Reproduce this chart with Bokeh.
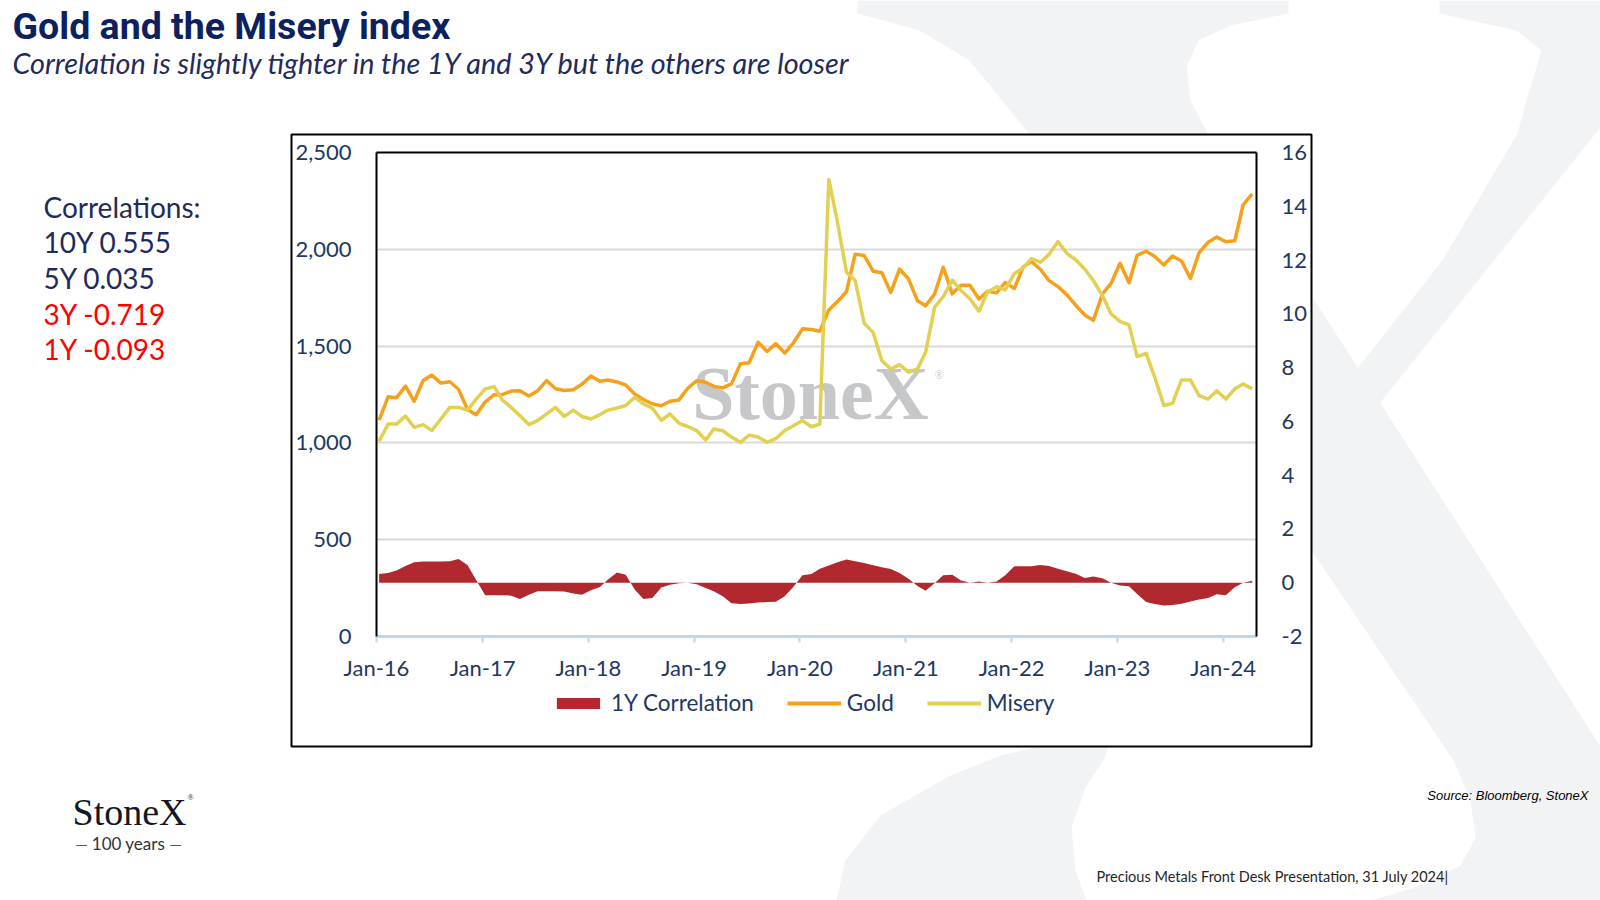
from datetime import datetime
import pandas as pd
from bokeh.plotting import figure
from bokeh.models import (Range1d, LinearAxis, FixedTicker, NumeralTickFormatter,
                          DatetimeTickFormatter, Legend, LegendItem, Label,
                          BoxAnnotation, PolyAnnotation, ColumnDataSource)
from bokeh.embed import file_html
from bokeh.resources import INLINE

# ---------------- data (monthly, Jan-16 .. Apr-24) ----------------
months = pd.date_range("2016-01-01", "2024-04-01", freq="MS")

gold = [1118, 1238, 1233, 1293, 1215, 1322, 1351, 1309, 1316, 1277, 1173, 1146,
        1211, 1249, 1249, 1268, 1269, 1242, 1269, 1322, 1280, 1271, 1275, 1303,
        1345, 1318, 1325, 1315, 1299, 1253, 1224, 1202, 1192, 1215, 1222, 1282,
        1321, 1313, 1292, 1284, 1305, 1409, 1414, 1520, 1472, 1513, 1464, 1517,
        1589, 1586, 1577, 1687, 1730, 1781, 1975, 1968, 1887, 1879, 1777, 1898,
        1847, 1734, 1708, 1769, 1907, 1770, 1814, 1814, 1743, 1783, 1775, 1829,
        1797, 1909, 1937, 1897, 1838, 1807, 1766, 1711, 1661, 1633, 1768, 1824,
        1928, 1827, 1969, 1990, 1963, 1919, 1965, 1940, 1849, 1983, 2036, 2063,
        2039, 2044, 2230, 2286]

misery = [5.26, 5.90, 5.90, 6.20, 5.78, 5.88, 5.66, 6.09, 6.52, 6.52, 6.42, 6.83,
          7.21, 7.29, 6.80, 6.52, 6.21, 5.88, 6.03, 6.28, 6.52, 6.18, 6.42, 6.18,
          6.09, 6.25, 6.42, 6.50, 6.59, 6.90, 6.65, 6.49, 6.04, 6.28, 5.93, 5.81,
          5.66, 5.31, 5.72, 5.65, 5.42, 5.22, 5.49, 5.42, 5.22, 5.36, 5.66, 5.84,
          6.03, 5.80, 5.90, 15.00, 13.40, 11.55, 11.24, 9.65, 9.31, 8.26, 7.95, 8.11,
          7.83, 7.95, 8.57, 10.24, 10.64, 11.25, 10.87, 10.56, 10.10, 10.80, 11.01, 10.89,
          11.49, 11.71, 12.05, 11.92, 12.21, 12.69, 12.25, 12.01, 11.67, 11.24, 10.68, 10.00,
          9.72, 9.59, 8.41, 8.53, 7.64, 6.59, 6.67, 7.54, 7.54, 6.96, 6.83, 7.14,
          6.83, 7.21, 7.39, 7.21]

corr_1y = [0.32, 0.36, 0.45, 0.62, 0.76, 0.79, 0.79, 0.79, 0.80, 0.88, 0.66, 0.10,
           -0.47, -0.47, -0.47, -0.48, -0.61, -0.45, -0.32, -0.32, -0.32, -0.33, -0.40, -0.45,
           -0.28, -0.16, 0.12, 0.38, 0.30, -0.25, -0.61, -0.57, -0.18, -0.08, -0.02, 0.00,
           -0.06, -0.20, -0.32, -0.50, -0.76, -0.79, -0.77, -0.74, -0.72, -0.71, -0.50, -0.15,
           0.28, 0.32, 0.52, 0.64, 0.76, 0.86, 0.80, 0.73, 0.65, 0.58, 0.51, 0.36,
           0.15, -0.12, -0.30, -0.02, 0.28, 0.30, 0.08, 0.00, 0.05, 0.00, 0.05, 0.28,
           0.61, 0.61, 0.61, 0.66, 0.62, 0.52, 0.43, 0.33, 0.18, 0.23, 0.17, 0.00,
           -0.10, -0.13, -0.42, -0.72, -0.79, -0.85, -0.83, -0.78, -0.70, -0.62, -0.57, -0.43,
           -0.47, -0.17, 0.00, 0.07]

year_ticks = pd.date_range("2016-01-01", "2024-01-01", freq="YS")
left_ticks = [0, 500, 1000, 1500, 2000, 2500]
right_ticks = [-2, 0, 2, 4, 6, 8, 10, 12, 14, 16]

title_text = "Gold and the Misery index"
subtitle_text = "Correlation is slightly tighter in the 1Y and 3Y but the others are looser"
corr_lines = ["Correlations:", "10Y 0.555", "5Y 0.035", "3Y -0.719", "1Y -0.093"]
corr_colors = ["#1F2B5C", "#1F2B5C", "#1F2B5C", "#FF0000", "#FF0000"]
series_names = ["1Y Correlation", "Gold", "Misery"]
source_text = "Source: Bloomberg, StoneX"
footer_text = "Precious Metals Front Desk Presentation, 31 July 2024|"

# ---------------- styles ----------------
W, H = 1600, 900
NAVY = "#203864"
GOLD_C = "#F5A11C"
MIS_C = "#E2D052"
CORR_C = "#B2282F"
BG_X = "#F2F3F5"
FONT = "Lato"

# =============== background slide (page-pixel coordinates) ===============
bg = figure(width=W, height=H, x_range=Range1d(0, W), y_range=Range1d(H, 0),
            x_axis_location=None, y_axis_location=None, toolbar_location=None,
            output_backend="svg", min_border=0, outline_line_color=None,
            background_fill_color="white", border_fill_color="white")
bg.xgrid.visible = False
bg.ygrid.visible = False

x_pieces = [
    [(857, 0), (1288, 0), (1288, 13), (1230, 25), (1198, 40), (1186, 67), (1190, 100),
     (1208, 134), (1029, 134), (969, 60), (919, 30), (857, 13)],
    [(1439, 0), (1600, 0), (1600, 127), (1311, 488), (1311, 426), (1442, 260),
     (1517, 133), (1526, 100), (1541, 50), (1516, 30), (1439, 13)],
    [(1311, 295), (1600, 746), (1600, 900), (1371, 900), (1420, 885), (1460, 865),
     (1475, 837), (1470, 800), (1453, 760), (1311, 550)],
    [(1040, 746), (1108, 746), (1103, 760), (1085, 787), (1071, 827), (1075, 870),
     (1086, 900), (836, 900), (845, 860), (880, 815), (950, 775), (1000, 755)],
]
for piece in x_pieces:
    bg.add_layout(PolyAnnotation(xs=[q[0] for q in piece], ys=[q[1] for q in piece],
                                 fill_color=BG_X, fill_alpha=1.0, line_color=None))

bg.add_layout(BoxAnnotation(left=291, right=1311, top=134, bottom=746,
                            fill_color="white", fill_alpha=1.0,
                            line_color="black", line_alpha=1.0, line_width=2))


def page_label(x, y, text, **kw):
    bg.add_layout(Label(x=x, y=y, text=text, **kw))


# watermark inside the plot area (drawn under the transparent chart)
page_label(810, 392, "StoneX", text_align="center", text_baseline="alphabetic",
           text_font="Liberation Serif", text_font_size="76px", text_font_style="bold",
           text_color="#C6C7C9")
page_label(934, 374, "®", text_baseline="middle", text_font="Liberation Serif",
           text_font_size="12px", text_color="#C6C7C9")

page_label(12, 25, title_text, text_font="Roboto", text_font_size="37.5px",
           text_font_style="bold", text_color="#0C2160", text_baseline="alphabetic")
page_label(12, 62, subtitle_text, text_font=FONT, text_font_size="28.8px",
           text_font_style="italic", text_color="#1F2B5C", text_baseline="alphabetic")

for i, (txt, col) in enumerate(zip(corr_lines, corr_colors)):
    page_label(43, 206 + i * 35.7, txt, text_font=FONT, text_font_size="28px",
               text_color=col, text_baseline="alphabetic")

page_label(1588, 795, source_text, text_font="Liberation Sans", text_font_size="13px",
           text_font_style="italic", text_color="black", text_align="right",
           text_baseline="alphabetic")
page_label(1096, 876, footer_text, text_font=FONT, text_font_size="14.5px",
           text_color="#262626", text_baseline="alphabetic")

# StoneX logo, bottom-left
page_label(72, 811, "StoneX", text_font="Liberation Serif", text_font_size="38px",
           text_color="#121826", text_baseline="alphabetic")
page_label(187, 797, "®", text_font="Liberation Serif", text_font_size="8px",
           text_color="#121826", text_baseline="alphabetic")
page_label(128, 843, "100 years", text_font=FONT, text_font_size="17px",
           text_color="#333333", text_align="center", text_baseline="middle")
page_label(81, 843, "—", text_font=FONT, text_font_size="16px",
           text_color="#555555", text_align="center", text_baseline="middle")
page_label(175, 843, "—", text_font=FONT, text_font_size="16px",
           text_color="#555555", text_align="center", text_baseline="middle")

# legend: proxy renderers (one empty NaN row, nothing visible) carry the series styles
nan = float("nan")
px_corr = bg.varea(x=[nan], y1=[nan], y2=[nan], fill_color=CORR_C, fill_alpha=1.0)
px_gold = bg.line(x=[nan], y=[nan], line_color=GOLD_C, line_width=4)
px_mis = bg.line(x=[nan], y=[nan], line_color=MIS_C, line_width=4)
legend = Legend(items=[LegendItem(label=series_names[0], renderers=[px_corr]),
                       LegendItem(label=series_names[1], renderers=[px_gold]),
                       LegendItem(label=series_names[2], renderers=[px_mis])],
                location=(551, 184), orientation="horizontal",
                glyph_width=54, glyph_height=14, label_standoff=6, spacing=33,
                padding=0, margin=0, border_line_alpha=0, background_fill_alpha=0,
                label_text_font=FONT, label_text_font_size="22.5px",
                label_text_color=NAVY)
bg.add_layout(legend)

# =============== chart (transparent, laid over the slide) ===============
src = ColumnDataSource(data=dict(date=months + pd.Timedelta(days=9),
                                 gold=gold, misery=misery, corr=corr_1y))

p = figure(width=W, height=H, x_axis_type="datetime",
           x_range=Range1d(datetime(2016, 1, 1), datetime(2024, 4, 25)),
           y_range=Range1d(0, 2500),
           output_backend="svg", toolbar_location=None,
           min_border_left=376, min_border_right=344,
           min_border_top=152, min_border_bottom=264,
           background_fill_color=None, border_fill_color=None,
           outline_line_color=None,
           styles={"position": "absolute", "left": "0px", "top": "0px"})
p.extra_y_ranges = {"right": Range1d(-2, 16)}

r_corr = p.varea(x="date", y1=0, y2="corr", source=src, y_range_name="right",
                 fill_color=CORR_C, fill_alpha=1.0)
r_gold = p.line(x="date", y="gold", source=src, line_color=GOLD_C, line_width=3.5,
                line_join="round")
r_mis = p.line(x="date", y="misery", source=src, y_range_name="right",
               line_color=MIS_C, line_width=3.5, line_join="round")

xa = p.below[0]
ya = p.left[0]
ya.ticker = FixedTicker(ticks=left_ticks)
ya.formatter = NumeralTickFormatter(format="0,0")
p.ygrid.ticker = FixedTicker(ticks=left_ticks)
p.ygrid.grid_line_color = "#D9D9D9"
p.ygrid.grid_line_width = 2
p.xgrid.visible = False

ra = LinearAxis(y_range_name="right", ticker=FixedTicker(ticks=right_ticks),
                formatter=NumeralTickFormatter(format="0"))
p.add_layout(ra, "right")

for ax in (ya, ra):
    ax.axis_line_color = "black"
    ax.axis_line_width = 2
    ax.major_tick_out = 0
    ax.major_tick_in = 0
    ax.minor_tick_out = 0
    ax.minor_tick_in = 0
    ax.major_label_standoff = 25
    ax.major_label_text_font = FONT
    ax.major_label_text_font_size = "22px"
    ax.major_label_text_color = NAVY

top = LinearAxis(ticker=FixedTicker(ticks=[]), axis_line_color="black",
                 axis_line_width=2, major_tick_out=0, minor_tick_out=0,
                 major_label_text_font_size="0px")
p.add_layout(top, "above")

xa.ticker = FixedTicker(ticks=[t.timestamp() * 1000 for t in year_ticks])
xa.formatter = DatetimeTickFormatter(years="%b-%y", months="%b-%y", days="%b-%y",
                                     hours="%b-%y", minutes="%b-%y")
xa.axis_line_color = "#BDD7EE"
xa.axis_line_width = 3
xa.major_tick_line_color = "#BDD7EE"
xa.major_tick_line_width = 2
xa.major_tick_out = 6
xa.major_tick_in = 0
xa.minor_tick_out = 0
xa.minor_tick_in = 0
xa.major_label_standoff = 11
xa.major_label_text_font = FONT
xa.major_label_text_font_size = "22px"
xa.major_label_text_color = NAVY

open("out.html", "w").write(file_html([bg, p], INLINE))
